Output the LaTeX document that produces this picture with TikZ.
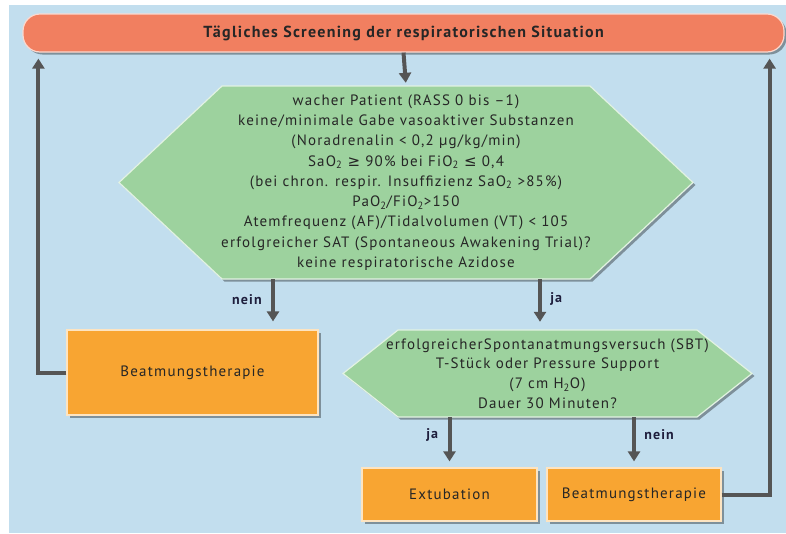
\documentclass[tikz,border=0pt]{standalone}
\usepackage{fontspec}
\setmainfont{PT Sans}[LetterSpace=8]
\newfontfamily\symfont{DejaVu Sans}
\usetikzlibrary{arrows.meta}
\usetikzlibrary{shadows}
\definecolor{bgblue}{RGB}{194,222,238}
\definecolor{titlered}{RGB}{241,127,96}
\definecolor{checkgreen}{RGB}{157,210,158}
\definecolor{therapyorange}{RGB}{248,165,50}
\definecolor{flowgray}{RGB}{85,85,85}
\definecolor{labelblue}{RGB}{30,30,60}
\tikzset{flow/.style = {draw = flowgray, line width = 4pt,
                        -{Triangle[width=12pt,length=10pt]}}}
\tikzset{boxshadow/.style = {drop shadow = {shadow xshift=2.5pt, shadow yshift=-2.5pt,
                                            opacity=0.35, fill=black}}}
\tikzset{titlebar/.style = {rectangle, rounded corners = 17pt, fill = titlered,
                            draw = white!70!titlered, line width = 1.2pt, boxshadow,
                            font = \bfseries\fontsize{16}{19}\selectfont, text = black!85}}
\tikzset{hexfill/.style = {fill = checkgreen, draw = white!70!checkgreen,
                           line width = 1.2pt, boxshadow}}
\tikzset{hextext/.style = {align = center, inner sep = 0pt, text = black!85}}
\tikzset{box/.style = {rectangle, fill = therapyorange, draw = white!70!therapyorange,
                       line width = 1.2pt, boxshadow, text = black!85,
                       font = \fontsize{15}{18}\selectfont}}
\tikzset{lbl/.style = {font = \bfseries\fontsize{14}{16}\selectfont, text = labelblue}}

\begin{document}
\begin{tikzpicture}[x=1pt, y=-1pt]
      \useasboundingbox (0,0) rectangle (786,533);
      \fill [white] (0,0) rectangle (786,533);
      \fill [bgblue] (9,5) rectangle (786,533);

      \node [titlebar, minimum width = 761pt, minimum height = 38pt] (screen) at (403.5,33)
            {Tägliches Screening der respiratorischen Situation};

      % hexagons drawn first, their texts go on top
      \path [hexfill] (119,182.5) -- (222,86) -- (590,86) -- (693,182.5)
            -- (590,279) -- (222,279) -- cycle;
      \path [hexfill] (343,373.5) -- (398,330) -- (697,330) -- (752,373.5)
            -- (697,417) -- (398,417) -- cycle;

      \node [hextext, minimum width = 574pt, minimum height = 193pt,
             font = \fontsize{15}{20.3}\selectfont] (check) at (406,182.5)
            {wacher Patient (RASS 0 bis –1)\\
             keine/minimale Gabe vasoaktiver Substanzen\\
             (Noradrenalin < 0,2 µg/kg/min)\\
             SaO\textsubscript{2} {\symfont ≥} 90\% bei FiO\textsubscript{2} {\symfont ≤} 0,4\\
             (bei chron. respir. Insuffizienz SaO\textsubscript{2} >85\%)\\
             PaO\textsubscript{2}/FiO\textsubscript{2}>150\\
             Atemfrequenz (AF)/Tidalvolumen (VT) < 105\\
             erfolgreicher SAT (Spontaneous Awakening Trial)?\\
             keine respiratorische Azidose};

      \node [hextext, minimum width = 409pt, minimum height = 87pt,
             font = \fontsize{15}{19.7}\selectfont] (sbt) at (547.5,373.5)
            {erfolgreicherSpontanatmungsversuch (SBT)\\
             T-Stück oder Pressure Support\\
             (7 cm H\textsubscript{2}O)\\
             Dauer 30 Minuten?};

      \node [box, minimum width = 251pt, minimum height = 85pt] (therapyA) at (192.5,372.5)
            {Beatmungstherapie};
      \node [box, minimum width = 175pt, minimum height = 53pt] (extub) at (449.5,494.5)
            {Extubation};
      \node [box, minimum width = 174pt, minimum height = 53pt] (therapyB) at (634,494.5)
            {Beatmungstherapie};

      \draw [flow, shorten >= 3pt] (screen.south) -- (check.north);
      \draw [flow, shorten >= 8pt] ([xshift=-133pt]check.south)
            -- ([xshift=-133pt]check.south |- therapyA.north)
            node [lbl, pos = 0.4, left = 6pt] {nein};
      \draw [flow, shorten >= 8pt] ([xshift=134pt]check.south)
            -- ([xshift=134pt]check.south |- sbt.north)
            node [lbl, pos = 0.4, right = 5pt] {ja};
      \draw [flow, shorten >= 6pt] (sbt.south -| extub.north) -- (extub.north)
            node [lbl, pos = 0.35, left = 6pt] {ja};
      \draw [flow, shorten >= 6pt] (sbt.south -| therapyB.north) -- (therapyB.north)
            node [lbl, pos = 0.35, right = 5pt] {nein};

      \draw [flow, shorten >= 6pt] (therapyA.west) -| ([xshift=16pt]screen.south west);
      \draw [flow, shorten >= 6pt] (therapyB.east) -| ([xshift=-15pt]screen.south east);
\end{tikzpicture}
\end{document}
